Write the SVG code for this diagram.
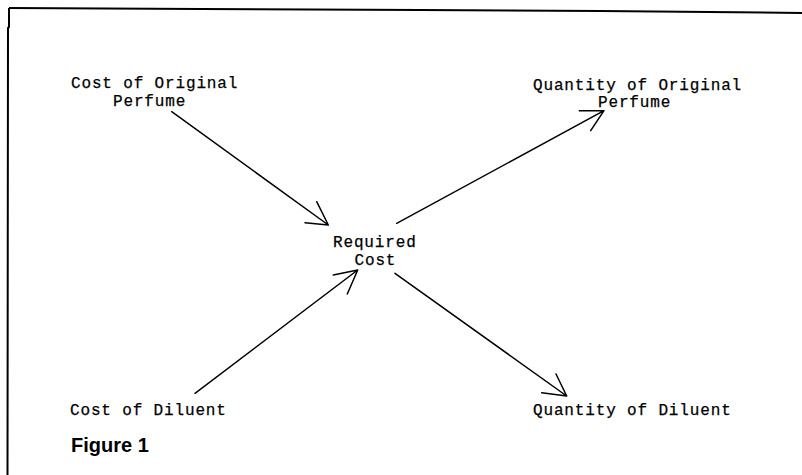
<svg xmlns="http://www.w3.org/2000/svg" width="802" height="475" viewBox="0 0 802 475">
<style>
.t{font-family:"Liberation Mono","Courier New",monospace;font-size:16px;letter-spacing:0.85px;fill:#000;stroke:#000;stroke-width:0.25;}
.c{fill:none;stroke:#000;stroke-width:1.5;stroke-linecap:round;stroke-linejoin:round;}
.b{fill:none;stroke:#000;stroke-width:2;}
.fig{font-family:"Liberation Sans",Arial,sans-serif;font-weight:bold;font-size:20px;fill:#000;}
</style>
<rect width="802" height="475" fill="#fff"/>
<g id="frame">
<polyline class="b" points="9,8 200,9 420,10 600,11 802,13"/>
<polyline class="b" points="9,8 9,27 8,28 7.5,475"/>
</g>
<g id="connectors">
<path class="c" d="M171.7,111.7 L328.3,225 M316.7,201.7 L328.3,225 L305,222.7"/>
<path class="c" d="M396.7,223.3 L604,110.7 M579.3,110.7 L604,110.7 L590.7,130.7"/>
<path class="c" d="M195,393.3 L357.7,270 M333.3,275 L357.7,270 L347.3,294"/>
<path class="c" d="M395,273.3 L566.7,396 M556,374 L566.7,396 L541.7,392.7"/>
</g>
<g id="cost-original">
<text class="t" x="71" y="88">Cost of Original</text>
<text class="t" x="113" y="105.5">Perfume</text>
</g>
<g id="quantity-original">
<text class="t" x="533" y="89.5">Quantity of Original</text>
<text class="t" x="598" y="107">Perfume</text>
</g>
<g id="required-cost">
<text class="t" x="333" y="246.5">Required</text>
<text class="t" x="354.5" y="265">Cost</text>
</g>
<g id="cost-diluent">
<text class="t" x="70" y="415">Cost of Diluent</text>
</g>
<g id="quantity-diluent">
<text class="t" x="533" y="415">Quantity of Diluent</text>
</g>
<g id="caption">
<text class="fig" x="71" y="451.5">Figure 1</text>
</g>
</svg>
